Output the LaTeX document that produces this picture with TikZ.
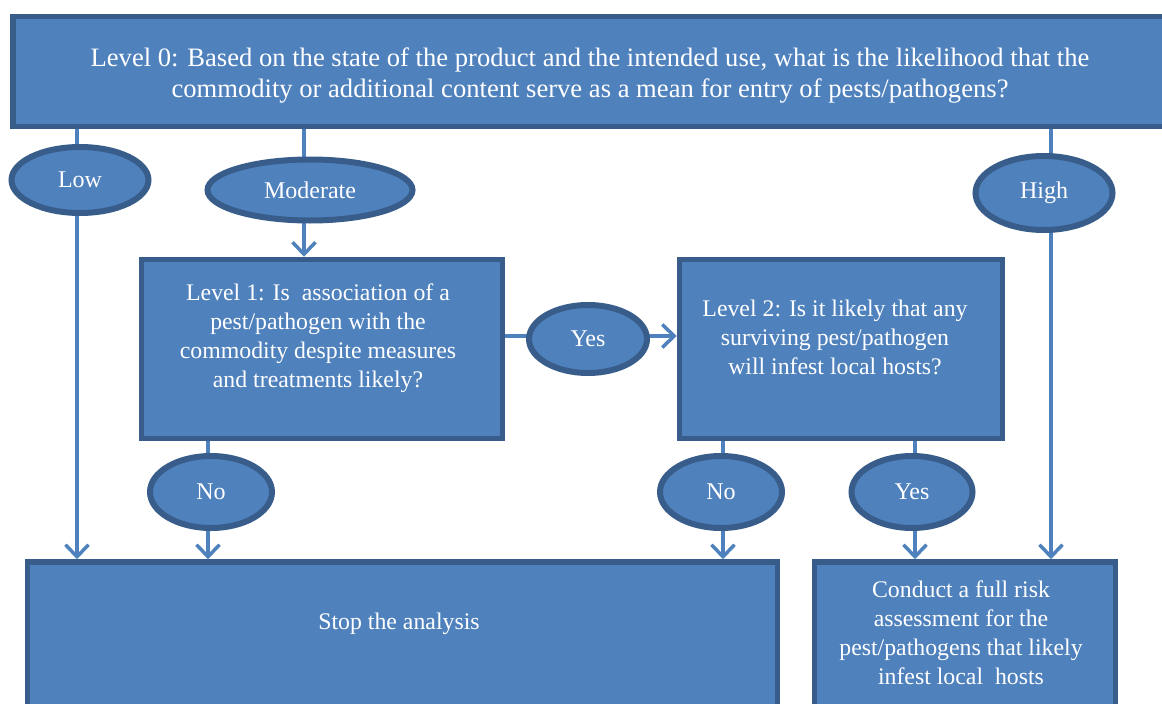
\documentclass[tikz,border=0pt]{standalone}
\usepackage{fontspec}
\setmainfont{Liberation Serif}
\usetikzlibrary{arrows.meta,shapes.geometric}
\definecolor{fillc}{HTML}{4F81BD}
\definecolor{bdr}{HTML}{385D8A}
\tikzset{
  box/.style={draw=bdr, line width=5.5pt, fill=fillc, rectangle, inner sep=0pt},
  oval/.style={draw=bdr, line width=6pt, fill=fillc, ellipse, inner sep=0pt, text=white, font=\fontsize{24}{28}\selectfont},
  txt/.style={text=white, align=center, inner sep=0pt},
  conn/.style={draw=fillc, line width=3.5pt},
  arr/.style={conn, -{Straight Barb[length=12pt, width=23pt, line width=3.5pt]}},
}
\begin{document}
\begin{tikzpicture}[x=1pt, y=-1pt]
\useasboundingbox (0,0) rectangle (1162,704);
\clip (0,0) rectangle (1162,704);
% boxes
\node[box, minimum width=1170pt, minimum height=110pt] (top) at (598,71.5) {};
\node[box, minimum width=361pt, minimum height=179pt] (l1) at (322,349) {};
\node[box, minimum width=323pt, minimum height=179pt] (l2) at (841,349) {};
\node[box, minimum width=750pt, minimum height=160pt] (stop) at (402.5,642) {};
\node[box, minimum width=301pt, minimum height=160pt] (conc) at (965,642) {};
% ellipse positions (for connectors)
\coordinate (lowc) at (80,180);
\coordinate (modc) at (310,190);
\coordinate (highc) at (1044,193);
\coordinate (ymidc) at (588,339);
\coordinate (nolc) at (211,492);
\coordinate (norc) at (721,492);
\coordinate (yrc) at (912,492);
% connectors
\draw[arr] ([xshift=-3pt]lowc |- top.south) -- ([xshift=-3pt]lowc |- stop.north);
\draw[arr] ([xshift=-6pt]modc |- top.south) -- ([xshift=-6pt]modc |- l1.north);
\draw[arr] ([xshift=7pt]highc |- top.south) -- ([xshift=7pt]highc |- conc.north);
\draw[arr] ([yshift=3pt]l1.east |- ymidc) -- ([yshift=3pt]l2.west |- ymidc);
\draw[arr] ([xshift=-3pt]nolc |- l1.south) -- ([xshift=-3pt]nolc |- stop.north);
\draw[arr] ([xshift=2pt]norc |- l2.south) -- ([xshift=2pt]norc |- stop.north);
\draw[arr] ([xshift=3pt]yrc |- l2.south) -- ([xshift=3pt]yrc |- conc.north);
% ellipses
\node[oval, minimum width=137pt, minimum height=66pt] (low) at (lowc) {\raisebox{-2pt}{Low}};
\node[oval, minimum width=205pt, minimum height=61pt] (mod) at (modc) {Moderate};
\node[oval, minimum width=137pt, minimum height=74pt] (high) at (highc) {\raisebox{-1.5pt}{High}};
\node[oval, minimum width=118pt, minimum height=68pt] (ymid) at (ymidc) {Yes};
\node[oval, minimum width=122pt, minimum height=72pt] (nol) at (nolc) {\raisebox{-1pt}{No}};
\node[oval, minimum width=122pt, minimum height=72pt] (nor) at (norc) {\raisebox{-1pt}{No}};
\node[oval, minimum width=121pt, minimum height=72pt] (yr) at (yrc) {\raisebox{-1pt}{Yes}};
% texts
\node[txt, font=\fontsize{26.6}{31}\selectfont] (toptxt) at (590,76) {Level 0: Based on the state of the product and the intended use, what is the likelihood that the\\commodity or additional content serve as a mean for entry of pests/pathogens?};
\node[txt, font=\fontsize{23.8}{29}\selectfont] (l1txt) at (318,338) {Level 1: Is\ \ association of a\\pest/pathogen with the\\commodity despite measures\\and treatments likely?};
\node[txt, font=\fontsize{23.8}{29}\selectfont] (l2txt) at (835,337) {Level 2: Is it likely that any\\surviving pest/pathogen\\will infest local hosts?};
\node[txt, font=\fontsize{23.8}{29}\selectfont] (stoptxt) at (399,624) {Stop the analysis};
\node[txt, font=\fontsize{23.8}{29}\selectfont] (conctxt) at (961,633) {Conduct a full risk\\assessment for the\\pest/pathogens that likely\\infest local\ \ hosts};
\end{tikzpicture}
\end{document}
